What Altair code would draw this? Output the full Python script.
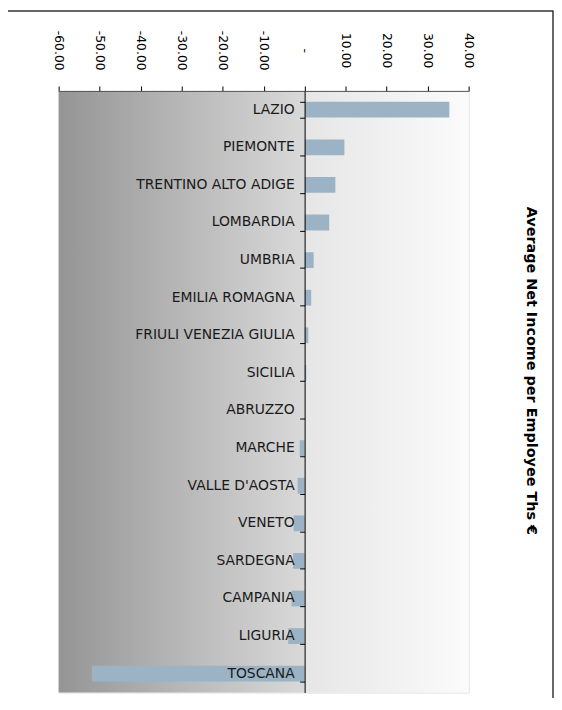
import altair as alt
import pandas as pd

regions = ["LAZIO", "PIEMONTE", "TRENTINO ALTO ADIGE", "LOMBARDIA", "UMBRIA",
           "EMILIA ROMAGNA", "FRIULI VENEZIA GIULIA", "SICILIA", "ABRUZZO",
           "MARCHE", "VALLE D'AOSTA", "VENETO", "SARDEGNA", "CAMPANIA",
           "LIGURIA", "TOSCANA"]
values = [35.3, 9.7, 7.5, 6.0, 2.2, 1.6, 0.9, 0.4, 0.0,
          -1.2, -1.7, -2.7, -2.8, -3.2, -4.0, -51.9]
tick_values = [-60, -50, -40, -30, -20, -10, 0, 10, 20, 30, 40]
title_text = "Average Net Income per Employee Ths €"

df = pd.DataFrame({"region": regions, "value": values})
one = pd.DataFrame({"t": [title_text]})

W, H = 413, 606
FONT = "DejaVu Sans"

xscale = alt.Scale(domain=[-60, 40], nice=False, zero=False)
yscale = alt.Scale(domain=regions, paddingInner=0.58, paddingOuter=0.29)

xaxis = alt.Axis(orient="top", values=tick_values, grid=False, title=None,
                 labelAngle=90, labelAlign="center", labelBaseline="middle",
                 labelPadding=36, tickSize=5, tickColor="black",
                 domainColor="#555555", labelFont=FONT, labelFontSize=12.5,
                 labelColor="black", zindex=1,
                 labelExpr="datum.value == 0 ? '-' : (datum.value < 0 ? '-' : '') + format(abs(datum.value), '.2f')")
yaxis = alt.Axis(orient="left", offset=-W * 0.6, labels=False, title=None,
                 tickBand="extent", tickSize=5, tickColor="black",
                 domainColor="black", grid=False, zindex=1)

grad = alt.LinearGradient(gradient="linear", x1=0, x2=1, y1=0, y2=0, stops=[
    alt.GradientStop(color="#959595", offset=0),
    alt.GradientStop(color="#d9d9d9", offset=0.6),
    alt.GradientStop(color="#e6e6e6", offset=0.6),
    alt.GradientStop(color="#fbfbfb", offset=1)])

bg = alt.Chart(one).mark_rect(fill=grad).encode(
    x=alt.X(datum=-60, scale=xscale, axis=xaxis),
    x2=alt.X2(datum=40),
    y=alt.value(0), y2=alt.value(H))

bars = alt.Chart(df).mark_bar(color="#9bb3c4").encode(
    x=alt.X("value:Q", scale=xscale, axis=xaxis),
    y=alt.Y("region:N", scale=yscale, axis=yaxis, sort=regions))

labels = alt.Chart(df).mark_text(align="right", baseline="middle", dx=-10,
                                 font=FONT, fontSize=14, color="#1a1a1a").encode(
    x=alt.X(datum=0, scale=xscale),
    y=alt.Y("region:N", scale=yscale, sort=regions),
    text="region:N")

title = alt.Chart(one).mark_text(angle=90, align="center", baseline="middle",
                                 font=FONT, fontSize=14.5, fontWeight="bold",
                                 color="black").encode(
    x=alt.value(476), y=alt.value(282), text="t:N")

top_line = alt.Chart(one).mark_rule(color="#333333", strokeWidth=1.5).encode(
    x=alt.value(-60), x2=alt.value(498), y=alt.value(-80.5))
right_line = alt.Chart(one).mark_rule(color="#333333", strokeWidth=1.5).encode(
    x=alt.value(498), y=alt.value(-81), y2=alt.value(H + 10))

chart = alt.layer(bg, bars, labels, title, top_line, right_line).properties(
    width=W, height=H,
    autosize=alt.AutoSizeParams(type="none"),
    padding={"left": 51, "top": 81, "right": 86, "bottom": 3},
).configure_view(stroke="#888888", strokeWidth=1).configure(background="white")

chart.save("out.html", embed_options={"renderer": "svg", "actions": False})
